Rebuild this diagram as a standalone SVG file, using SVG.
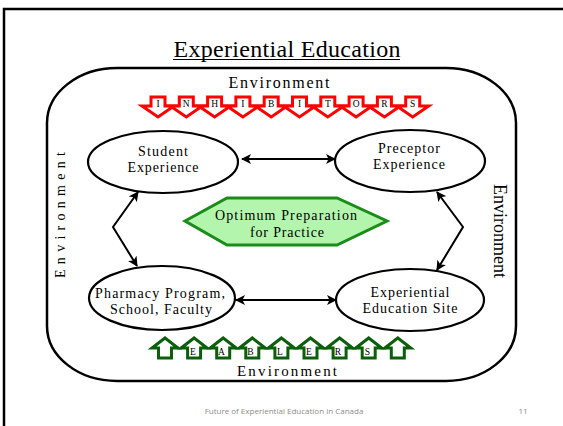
<svg xmlns="http://www.w3.org/2000/svg" width="563" height="426" viewBox="0 0 563 426">
  <defs>
    <style>
      .serif { font-family: "Liberation Serif", "Times New Roman", serif; fill: #000; }
      .node ellipse { fill: #fff; stroke: #000; stroke-width: 2.2; }
      .lbl { font-size: 14px; text-anchor: middle; }
      .conn { fill: none; stroke: #000; stroke-width: 2; marker-start: url(#ah); marker-end: url(#ah); }
      .down { fill: #fff; stroke: #ff0000; stroke-width: 3; stroke-linejoin: miter; }
      .up { fill: #fff; stroke: #0b5e0b; stroke-width: 3; stroke-linejoin: miter; }
      .tag { font-size: 9.5px; text-anchor: middle; }
      .foot { font-family: "Open Sans", "Liberation Sans", sans-serif; font-size: 8px; fill: #8c8c8c; }
    </style>
    <marker id="ah" viewBox="0 0 10 10" refX="9" refY="5" markerWidth="5" markerHeight="5" orient="auto-start-reverse" markerUnits="strokeWidth">
      <path d="M0,0 L10,5 L0,10 L2.5,5 Z" fill="#000"/>
    </marker>
    <!-- arrow glyphs for the inhibitor / enabler rows -->
    <path id="downArrow" class="down" d="M-7,97 H7 V106 H16 L0,117 L-16,106 H-7 Z"/>
    <path id="upArrow" class="up" d="M0,338 L13,348 H6.5 V358 H-6.5 V348 H-13 Z"/>
  </defs>

  <rect width="563" height="426" fill="#fff"/>
  <!-- slide frame -->
  <path d="M4,426 V9 H563" fill="none" stroke="#000" stroke-width="2.5"/>

  <!-- title -->
  <text class="serif" x="287" y="57" font-size="24" text-anchor="middle" textLength="227" lengthAdjust="spacing">Experiential Education</text>
  <line x1="173" y1="59.5" x2="400" y2="59.5" stroke="#000" stroke-width="1"/>

  <!-- environment boundary -->
  <rect x="47" y="68" width="469" height="313" rx="70" ry="55" fill="none" stroke="#000" stroke-width="2.5"/>
  <text class="serif" x="279" y="88" font-size="16" text-anchor="middle" textLength="101" lengthAdjust="spacing">Environment</text>
  <text class="serif" x="287" y="376" font-size="15" text-anchor="middle" textLength="100" lengthAdjust="spacing">Environment</text>
  <text class="serif" font-size="14" text-anchor="middle" textLength="126" lengthAdjust="spacing" transform="translate(65,215) rotate(-90)">Environment</text>
  <text class="serif" font-size="18" text-anchor="middle" transform="translate(494,231) rotate(90)">Environment</text>

  <!-- inhibitors -->
  <g id="inhibitors">
    <use href="#downArrow" x="158"/><use href="#downArrow" x="186.3"/><use href="#downArrow" x="214.6"/>
    <use href="#downArrow" x="242.9"/><use href="#downArrow" x="271.2"/><use href="#downArrow" x="299.5"/>
    <use href="#downArrow" x="327.8"/><use href="#downArrow" x="356.1"/><use href="#downArrow" x="384.4"/>
    <use href="#downArrow" x="412.7"/>
    <g class="serif tag">
      <text x="158" y="107">I</text><text x="186.3" y="107">N</text><text x="214.6" y="107">H</text>
      <text x="242.9" y="107">I</text><text x="271.2" y="107">B</text><text x="299.5" y="107">I</text>
      <text x="327.8" y="107">T</text><text x="356.1" y="107">O</text><text x="384.4" y="107">R</text>
      <text x="412.7" y="107">S</text>
    </g>
  </g>

  <!-- enablers -->
  <g id="enablers">
    <use href="#upArrow" x="165"/><use href="#upArrow" x="194.1"/><use href="#upArrow" x="223.2"/>
    <use href="#upArrow" x="252.3"/><use href="#upArrow" x="281.4"/><use href="#upArrow" x="310.5"/>
    <use href="#upArrow" x="339.6"/><use href="#upArrow" x="368.7"/><use href="#upArrow" x="397.8"/>
    <g class="serif tag">
      <text x="193" y="355">E</text><text x="221.5" y="355">A</text><text x="250.5" y="355">B</text>
      <text x="280" y="355">L</text><text x="309" y="355">E</text><text x="338" y="355">R</text>
      <text x="367.5" y="355">S</text>
    </g>
  </g>

  <!-- connectors -->
  <g id="connectors">
    <line class="conn" x1="242" y1="159" x2="335" y2="159"/>
    <line class="conn" x1="236" y1="300" x2="336" y2="300"/>
    <polyline class="conn" points="138,192 113,227 137,266"/>
    <polyline class="conn" points="437,192 463,227 437,270"/>
  </g>

  <!-- nodes -->
  <g id="student" class="node">
    <ellipse cx="163" cy="162" rx="75" ry="31"/>
    <text class="serif lbl" x="163" y="156" textLength="50" lengthAdjust="spacing">Student</text>
    <text class="serif lbl" x="163" y="172" textLength="71" lengthAdjust="spacing">Experience</text>
  </g>
  <g id="preceptor" class="node">
    <ellipse cx="410" cy="161" rx="75" ry="31"/>
    <text class="serif lbl" x="409" y="153" textLength="62" lengthAdjust="spacing">Preceptor</text>
    <text class="serif lbl" x="409" y="169" textLength="72" lengthAdjust="spacing">Experience</text>
  </g>
  <g id="pharmacy" class="node">
    <ellipse cx="162" cy="298" rx="73" ry="32"/>
    <text class="serif lbl" x="160" y="298" textLength="130" lengthAdjust="spacing">Pharmacy Program,</text>
    <text class="serif lbl" x="161" y="314" textLength="102" lengthAdjust="spacing">School, Faculty</text>
  </g>
  <g id="site" class="node">
    <ellipse cx="410" cy="300" rx="74" ry="31"/>
    <text class="serif lbl" x="410" y="297" textLength="79" lengthAdjust="spacing">Experiential</text>
    <text class="serif lbl" x="410" y="313" textLength="95" lengthAdjust="spacing">Education Site</text>
  </g>
  <g id="outcome">
    <polygon points="185,221 227,198 337,198 387,221 337,245 227,245" fill="#b3f5ac" stroke="#1a8c1a" stroke-width="3"/>
    <text class="serif lbl" x="286" y="220" textLength="142" lengthAdjust="spacing">Optimum Preparation</text>
    <text class="serif lbl" x="287" y="237" textLength="74" lengthAdjust="spacing">for Practice</text>
  </g>

  <!-- footer -->
  <text class="foot" x="284" y="414" text-anchor="middle">Future of Experiential Education in Canada</text>
  <text class="foot" x="523" y="414" text-anchor="middle">11</text>
</svg>
